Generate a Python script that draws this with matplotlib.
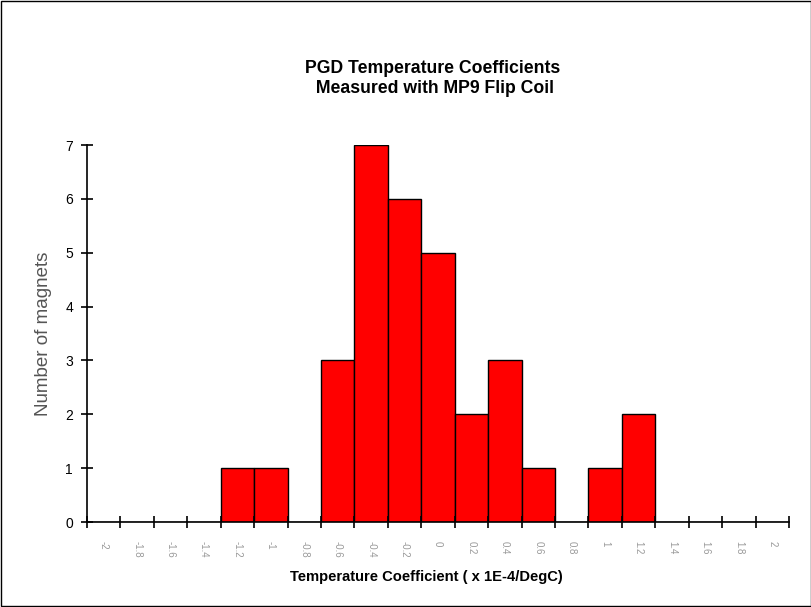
import numpy as np
import matplotlib.pyplot as plt
from matplotlib.patches import Rectangle

plt.rcParams['font.family'] = ['Liberation Sans', 'DejaVu Sans']

# bin centres (x 1E-4/DegC) and magnet counts per bin
bin_labels = ["-2", "-1.8", "-1.6", "-1.4", "-1.2", "-1", "-0.8", "-0.6", "-0.4", "-0.2",
              "0", "0.2", "0.4", "0.6", "0.8", "1", "1.2", "1.4", "1.6", "1.8", "2"]
counts = [0, 0, 0, 0, 1, 1, 0, 3, 7, 6, 5, 2, 3, 1, 0, 1, 2, 0, 0, 0, 0]

fig = plt.figure(figsize=(8.12, 6.07), dpi=100)
ax = fig.add_axes([0.1071, 0.140, 0.8646, 0.621])

x = np.arange(len(bin_labels))
ax.bar(x, counts, width=1.0, color='#ff0000', edgecolor='black', linewidth=1.0)

ax.set_xlim(-0.5, len(bin_labels) - 0.5)
ax.set_ylim(0, 7)

# tick marks at the bin edges, labels at the bin centres
ax.set_xticks(np.arange(len(bin_labels) + 1) - 0.5, minor=True)
ax.set_xticks(x)
ax.set_xticklabels(bin_labels, rotation=-90, fontsize=7, color='#999999')
ax.tick_params(axis='x', which='major', length=0, pad=14)
ax.tick_params(axis='x', which='minor', direction='inout', length=8, width=1.2)
ax.set_yticks(range(8))
ax.tick_params(axis='y', direction='inout', length=8, width=1.2, labelsize=10, pad=6)

for s in ['top', 'right']:
    ax.spines[s].set_visible(False)
for s in ['left', 'bottom']:
    ax.spines[s].set_linewidth(1.2)

ax.set_xlabel("Temperature Coefficient ( x 1E-4/DegC)", fontsize=10.6, fontweight='bold')
ax.xaxis.set_label_coords(0.484, -0.127)
ax.set_ylabel("Number of magnets", fontsize=13.5, color='#555555')
ax.yaxis.set_label_coords(-0.05, 0.5)

fig.text(0.533, 0.8707, "PGD Temperature Coefficients\n Measured with MP9 Flip Coil",
         ha='center', va='center', fontsize=12.7, fontweight='bold', linespacing=1.25)

# outer border of the chart area
fig.patches.append(Rectangle((0.001, 0.002), 0.998, 0.996, transform=fig.transFigure,
                             fill=False, edgecolor='black', linewidth=1.0))

fig.savefig("out.png", dpi=100)
